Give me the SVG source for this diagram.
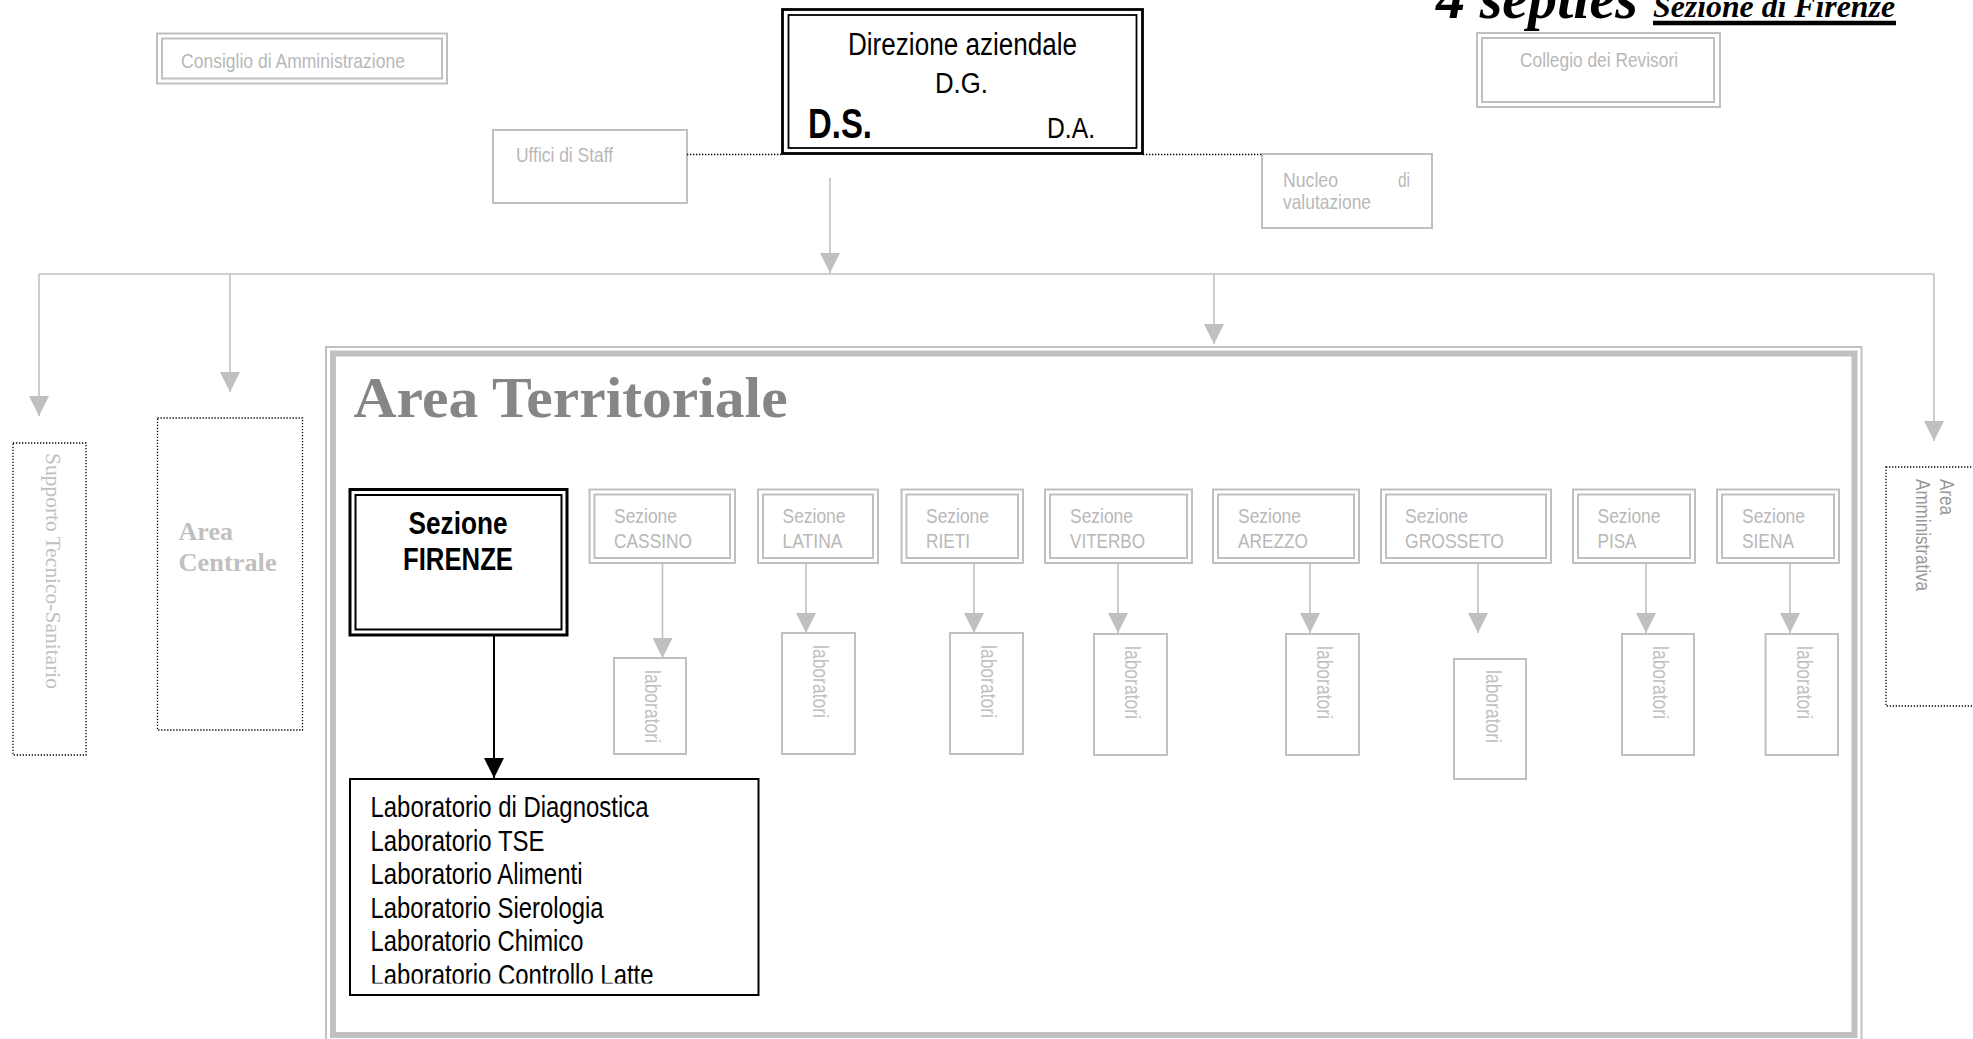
<svg xmlns="http://www.w3.org/2000/svg" width="1973" height="1039" viewBox="0 0 1973 1039">
<defs>
<style>
.sans{font-family:"Liberation Sans Narrow","Liberation Sans",Arial,sans-serif}
.serif{font-family:"Liberation Serif","Times New Roman",serif}
.gt{font-size:21px;fill:#b8b8b8}
.lab{font-size:22px;fill:#c0c0c0}
.bt{fill:#000}
.gbox{fill:none;stroke:#c0c0c0;stroke-width:2}
.bbox{fill:none;stroke:#000}
.dot{fill:none;stroke:#000;stroke-width:1.3;stroke-dasharray:1.3 1.7}
.gl{fill:none;stroke:#c0c0c0;stroke-width:1.6}
.bl{fill:none;stroke:#000;stroke-width:2}
</style>
<marker id="ag" viewBox="0 0 20 20" markerWidth="20" markerHeight="20" refX="20" refY="10" orient="auto" markerUnits="userSpaceOnUse"><path d="M0,0L20,10L0,20Z" fill="#c0c0c0"/></marker>
<marker id="ab" viewBox="0 0 20 20" markerWidth="20" markerHeight="20" refX="20" refY="10" orient="auto" markerUnits="userSpaceOnUse"><path d="M0,0L20,10L0,20Z" fill="#000"/></marker>
<clipPath id="labclip"><rect x="350" y="779" width="410" height="204.5"/></clipPath>
</defs>
<rect width="1973" height="1039" fill="#fff"/>

<g id="title">
<text class="serif" x="1436" y="18" font-weight="bold" font-style="italic" font-size="60" textLength="202" lengthAdjust="spacingAndGlyphs">4 septies</text>
<text class="serif" x="1653" y="17" font-weight="bold" font-style="italic" font-size="32" textLength="242" lengthAdjust="spacingAndGlyphs">Sezione di Firenze</text>
<line x1="1653" y1="23" x2="1896" y2="23" stroke="#000" stroke-width="4.3"/>
</g>

<g id="consiglio">
<rect class="gbox" x="157" y="33.5" width="290" height="50"/>
<rect class="gbox" x="162" y="38.5" width="280" height="40"/>
<text class="sans gt" x="181" y="68" textLength="224" lengthAdjust="spacingAndGlyphs">Consiglio di Amministrazione</text>
</g>

<g id="direzione">
<rect class="bbox" x="782.5" y="9.5" width="360" height="144" stroke-width="2.8"/>
<rect class="bbox" x="788.5" y="15" width="348" height="133" stroke-width="1.8"/>
<text class="sans bt" x="848" y="55" font-size="31" textLength="229" lengthAdjust="spacingAndGlyphs">Direzione aziendale</text>
<text class="sans bt" x="935" y="93" font-size="29" textLength="53" lengthAdjust="spacingAndGlyphs">D.G.</text>
<text class="sans bt" x="808" y="137.5" font-size="42" font-weight="bold" textLength="64" lengthAdjust="spacingAndGlyphs">D.S.</text>
<text class="sans bt" x="1047" y="138" font-size="29" textLength="48" lengthAdjust="spacingAndGlyphs">D.A.</text>
</g>

<g id="uffici">
<rect class="gbox" x="493" y="130" width="194" height="73"/>
<text class="sans gt" x="516" y="162" textLength="97" lengthAdjust="spacingAndGlyphs">Uffici di Staff</text>
</g>

<g id="nucleo">
<rect class="gbox" x="1262" y="154" width="170" height="74"/>
<text class="sans gt" x="1283" y="187" textLength="55" lengthAdjust="spacingAndGlyphs">Nucleo</text>
<text class="sans gt" x="1398" y="187" textLength="12" lengthAdjust="spacingAndGlyphs">di</text>
<text class="sans gt" x="1283" y="209" textLength="88" lengthAdjust="spacingAndGlyphs">valutazione</text>
</g>

<g id="collegio">
<rect class="gbox" x="1477" y="33" width="243" height="74"/>
<rect class="gbox" x="1482" y="38" width="232" height="64"/>
<text class="sans gt" x="1520" y="67" textLength="158" lengthAdjust="spacingAndGlyphs">Collegio dei Revisori</text>
</g>

<g id="connectors">
<line class="dot" x1="687" y1="154.5" x2="782" y2="154.5"/>
<line class="dot" x1="1143" y1="154.5" x2="1263" y2="154.5"/>
<path class="gl" d="M830,178V273" marker-end="url(#ag)"/>
<path class="gl" d="M39,274H1934"/>
<path class="gl" d="M39,274V416" marker-end="url(#ag)"/>
<path class="gl" d="M230,274V392" marker-end="url(#ag)"/>
<path class="gl" d="M1214,274V344" marker-end="url(#ag)"/>
<path class="gl" d="M1934,274V441" marker-end="url(#ag)"/>
<path class="gl" d="M662.5,563V658" marker-end="url(#ag)"/>
<path class="gl" d="M806,563V633" marker-end="url(#ag)"/>
<path class="gl" d="M974,563V633" marker-end="url(#ag)"/>
<path class="gl" d="M1118,563V633" marker-end="url(#ag)"/>
<path class="gl" d="M1310,563V633" marker-end="url(#ag)"/>
<path class="gl" d="M1478,563V633" marker-end="url(#ag)"/>
<path class="gl" d="M1646,563V633" marker-end="url(#ag)"/>
<path class="gl" d="M1790,563V633" marker-end="url(#ag)"/>
<path class="bl" d="M494,635V778" marker-end="url(#ab)"/>
</g>

<g id="supporto">
<rect class="dot" x="13" y="443" width="73" height="312"/>
<text class="serif" transform="translate(46,453) rotate(90)" font-size="21.5" fill="#c0c0c0" textLength="236" lengthAdjust="spacingAndGlyphs">Supporto Tecnico-Sanitario</text>
</g>

<g id="area-centrale">
<rect class="dot" x="157.5" y="418" width="145" height="312"/>
<text class="serif" x="178.6" y="540" font-size="26" font-weight="bold" fill="#c0c0c0">Area</text>
<text class="serif" x="178.6" y="571" font-size="26" font-weight="bold" fill="#c0c0c0" textLength="98" lengthAdjust="spacingAndGlyphs">Centrale</text>
</g>

<g id="area-territoriale">
<rect x="326" y="347" width="1535.5" height="720" fill="none" stroke="#c0c0c0" stroke-width="2"/>
<rect x="333" y="353.5" width="1521.5" height="681.5" fill="none" stroke="#c0c0c0" stroke-width="6"/>
<text class="serif" x="353.6" y="417" font-size="58" font-weight="bold" fill="#868686" textLength="434" lengthAdjust="spacingAndGlyphs">Area Territoriale</text>
</g>

<g id="sez-firenze">
<rect class="bbox" x="350" y="489.5" width="217" height="145.5" stroke-width="3"/>
<rect class="bbox" x="355.5" y="495" width="206" height="134.5" stroke-width="2"/>
<text class="sans bt" x="458" y="534" font-size="31" font-weight="bold" text-anchor="middle" textLength="99" lengthAdjust="spacingAndGlyphs">Sezione</text>
<text class="sans bt" x="458" y="570" font-size="31" font-weight="bold" text-anchor="middle" textLength="110" lengthAdjust="spacingAndGlyphs">FIRENZE</text>
</g>

<g id="lab-firenze">
<rect x="350" y="779" width="408.5" height="216" fill="#fff" stroke="#000" stroke-width="2"/>
<g clip-path="url(#labclip)" class="sans bt" font-size="29">
<text x="370.5" y="817" textLength="278" lengthAdjust="spacingAndGlyphs">Laboratorio di Diagnostica</text>
<text x="370.5" y="850.5" textLength="174" lengthAdjust="spacingAndGlyphs">Laboratorio TSE</text>
<text x="370.5" y="884" textLength="212" lengthAdjust="spacingAndGlyphs">Laboratorio Alimenti</text>
<text x="370.5" y="917.5" textLength="233" lengthAdjust="spacingAndGlyphs">Laboratorio Sierologia</text>
<text x="370.5" y="951" textLength="213" lengthAdjust="spacingAndGlyphs">Laboratorio Chimico</text>
<text x="370.5" y="985" textLength="283" lengthAdjust="spacingAndGlyphs">Laboratorio Controllo Latte</text>
</g>
</g>

<g id="sez-cassino">
<rect class="gbox" x="589.5" y="489.5" width="145.5" height="73.5"/>
<rect class="gbox" x="594.5" y="494.5" width="135.5" height="63.5"/>
<text class="sans gt" x="614" y="523" textLength="63" lengthAdjust="spacingAndGlyphs">Sezione</text>
<text class="sans gt" x="614" y="548" textLength="78" lengthAdjust="spacingAndGlyphs">CASSINO</text>
</g>
<g id="lab-cassino">
<rect class="gbox" x="614" y="658" width="72" height="96"/>
<text class="sans lab" transform="translate(645,670) rotate(90)" textLength="73" lengthAdjust="spacingAndGlyphs">laboratori</text>
</g>

<g id="sez-latina">
<rect class="gbox" x="758" y="489.5" width="120" height="73.5"/>
<rect class="gbox" x="763" y="494.5" width="110" height="63.5"/>
<text class="sans gt" x="782.5" y="523" textLength="63" lengthAdjust="spacingAndGlyphs">Sezione</text>
<text class="sans gt" x="782.5" y="548" textLength="60" lengthAdjust="spacingAndGlyphs">LATINA</text>
</g>
<g id="lab-latina">
<rect class="gbox" x="782" y="633" width="73" height="121"/>
<text class="sans lab" transform="translate(813,645) rotate(90)" textLength="73" lengthAdjust="spacingAndGlyphs">laboratori</text>
</g>

<g id="sez-rieti">
<rect class="gbox" x="901.5" y="489.5" width="121.5" height="73.5"/>
<rect class="gbox" x="906.5" y="494.5" width="111.5" height="63.5"/>
<text class="sans gt" x="926" y="523" textLength="63" lengthAdjust="spacingAndGlyphs">Sezione</text>
<text class="sans gt" x="926" y="548" textLength="44" lengthAdjust="spacingAndGlyphs">RIETI</text>
</g>
<g id="lab-rieti">
<rect class="gbox" x="950" y="633" width="73" height="121"/>
<text class="sans lab" transform="translate(981,645) rotate(90)" textLength="73" lengthAdjust="spacingAndGlyphs">laboratori</text>
</g>

<g id="sez-viterbo">
<rect class="gbox" x="1045" y="489.5" width="147" height="73.5"/>
<rect class="gbox" x="1050" y="494.5" width="137" height="63.5"/>
<text class="sans gt" x="1070" y="523" textLength="63" lengthAdjust="spacingAndGlyphs">Sezione</text>
<text class="sans gt" x="1070" y="548" textLength="75" lengthAdjust="spacingAndGlyphs">VITERBO</text>
</g>
<g id="lab-viterbo">
<rect class="gbox" x="1094" y="634" width="73" height="121"/>
<text class="sans lab" transform="translate(1125,646) rotate(90)" textLength="73" lengthAdjust="spacingAndGlyphs">laboratori</text>
</g>

<g id="sez-arezzo">
<rect class="gbox" x="1213" y="489.5" width="146" height="73.5"/>
<rect class="gbox" x="1218" y="494.5" width="136" height="63.5"/>
<text class="sans gt" x="1238" y="523" textLength="63" lengthAdjust="spacingAndGlyphs">Sezione</text>
<text class="sans gt" x="1238" y="548" textLength="70" lengthAdjust="spacingAndGlyphs">AREZZO</text>
</g>
<g id="lab-arezzo">
<rect class="gbox" x="1286" y="634" width="73" height="121"/>
<text class="sans lab" transform="translate(1317,646) rotate(90)" textLength="73" lengthAdjust="spacingAndGlyphs">laboratori</text>
</g>

<g id="sez-grosseto">
<rect class="gbox" x="1381" y="489.5" width="170" height="73.5"/>
<rect class="gbox" x="1386" y="494.5" width="160" height="63.5"/>
<text class="sans gt" x="1405" y="523" textLength="63" lengthAdjust="spacingAndGlyphs">Sezione</text>
<text class="sans gt" x="1405" y="548" textLength="99" lengthAdjust="spacingAndGlyphs">GROSSETO</text>
</g>
<g id="lab-grosseto">
<rect class="gbox" x="1454" y="659" width="72" height="120"/>
<text class="sans lab" transform="translate(1486,670) rotate(90)" textLength="73" lengthAdjust="spacingAndGlyphs">laboratori</text>
</g>

<g id="sez-pisa">
<rect class="gbox" x="1573" y="489.5" width="122" height="73.5"/>
<rect class="gbox" x="1578" y="494.5" width="112" height="63.5"/>
<text class="sans gt" x="1597.5" y="523" textLength="63" lengthAdjust="spacingAndGlyphs">Sezione</text>
<text class="sans gt" x="1597.5" y="548" textLength="39" lengthAdjust="spacingAndGlyphs">PISA</text>
</g>
<g id="lab-pisa">
<rect class="gbox" x="1622" y="634" width="72" height="121"/>
<text class="sans lab" transform="translate(1653,646) rotate(90)" textLength="73" lengthAdjust="spacingAndGlyphs">laboratori</text>
</g>

<g id="sez-siena">
<rect class="gbox" x="1717" y="489.5" width="122" height="73.5"/>
<rect class="gbox" x="1722" y="494.5" width="112" height="63.5"/>
<text class="sans gt" x="1742" y="523" textLength="63" lengthAdjust="spacingAndGlyphs">Sezione</text>
<text class="sans gt" x="1742" y="548" textLength="52" lengthAdjust="spacingAndGlyphs">SIENA</text>
</g>
<g id="lab-siena">
<rect class="gbox" x="1765.5" y="634" width="72.5" height="121"/>
<text class="sans lab" transform="translate(1797,646) rotate(90)" textLength="73" lengthAdjust="spacingAndGlyphs">laboratori</text>
</g>

<g id="area-amministrativa">
<rect class="dot" x="1886" y="467" width="120" height="239"/>
<text class="sans" transform="translate(1940,479) rotate(90)" font-size="21" fill="#999" textLength="36" lengthAdjust="spacingAndGlyphs">Area</text>
<text class="sans" transform="translate(1916,479) rotate(90)" font-size="21" fill="#999" textLength="112" lengthAdjust="spacingAndGlyphs">Amministrativa</text>
</g>
</svg>
